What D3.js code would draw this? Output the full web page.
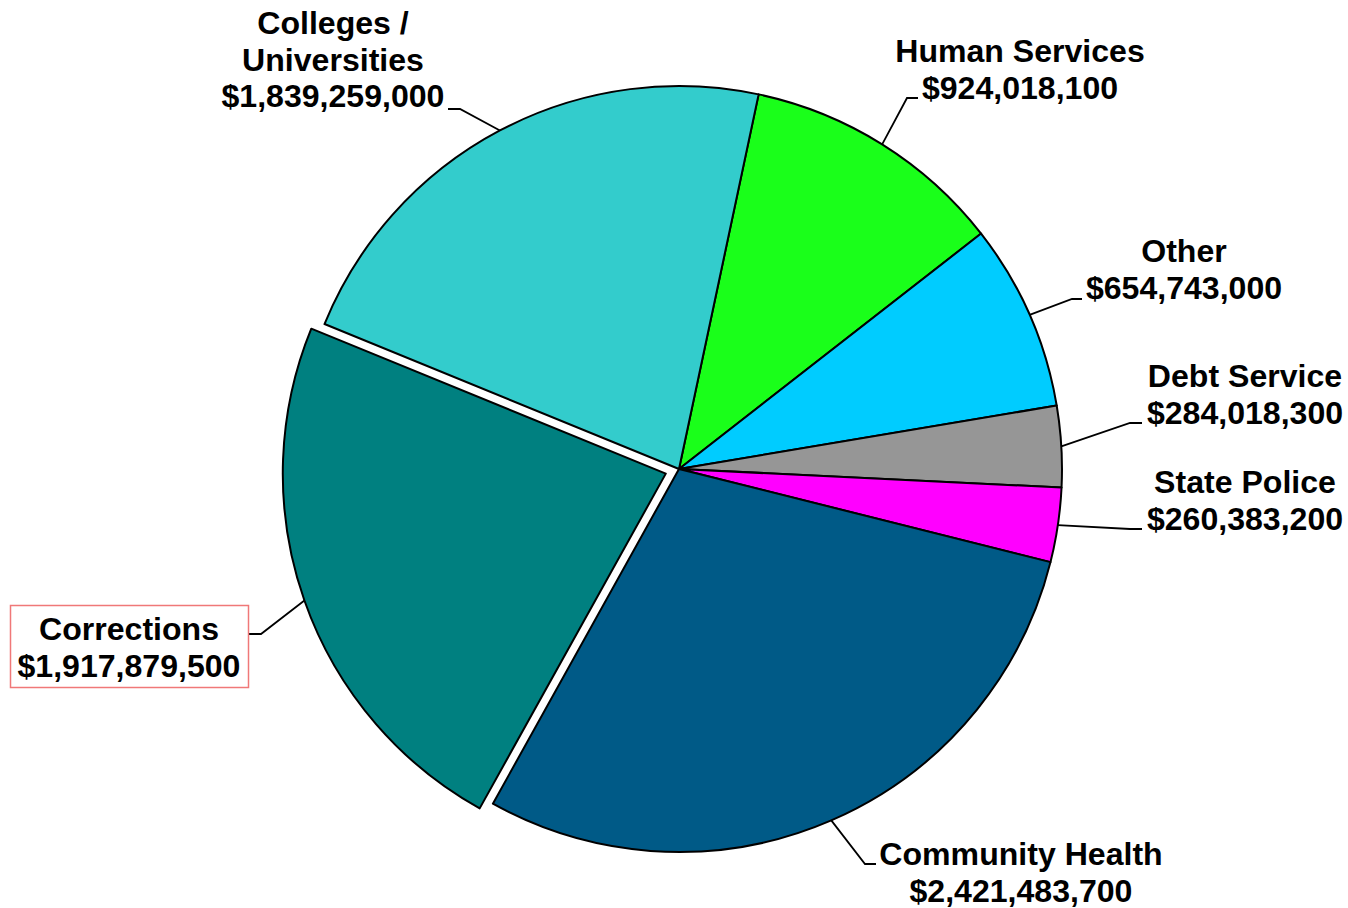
<!DOCTYPE html>
<html>
<head>
<meta charset="utf-8">
<script src="https://cdn.jsdelivr.net/npm/d3@7"></script>
<style>
  html, body { margin: 0; padding: 0; background: #fff; }
  svg { display: block; }
  text { font-family: Arial, "Liberation Sans", sans-serif; font-weight: bold; fill: #000; }
</style>
</head>
<body>
<svg id="chart" width="1348" height="908"></svg>
<script>
// ---- data ----
const categories = ["Human Services", "Other", "Debt Service", "State Police", "Community Health", "Corrections", "Colleges / Universities"];
const labelLines = [["Human Services"], ["Other"], ["Debt Service"], ["State Police"], ["Community Health"], ["Corrections"], ["Colleges /", "Universities"]];
const values = [924018100, 654743000, 284018300, 260383200, 2421483700, 1917879500, 1839259000];
const colors = ["#1aff1a", "#00ccff", "#969696", "#ff00ff", "#005a87", "#008080", "#33cccc"];
const exploded = [false, false, false, false, false, true, false];

// ---- layout (label centre x, first-line cap centre y, leader elbow x/y, leader end x, boxed) ----
const labelLayout = [
  { x: 1020, y: 51,  ex: 907,  ey: 98,  endX: 918,  box: false },
  { x: 1184, y: 251, ex: 1072, ey: 299, endX: 1082, box: false },
  { x: 1245, y: 376, ex: 1130, ey: 423, endX: 1142, box: false },
  { x: 1245, y: 482, ex: 1130, ey: 529, endX: 1142, box: false },
  { x: 1021, y: 854, ex: 865,  ey: 864, endX: 876,  box: false },
  { x: 129,  y: 629, ex: 261,  ey: 634, endX: 249,  box: true  },
  { x: 333,  y: 23,  ex: 460,  ey: 109, endX: 448,  box: false }
];

const cx = 679, cy = 469, R = 383, explodeDist = 14;
const fontSize = 31, lineH = 36.7, stretchX = 1.035;
const start = 12 * Math.PI / 180;

const svg = d3.select("#chart");
const fmt = d3.format("$,");

const pie = d3.pie().sort(null).value(d => d).startAngle(start).endAngle(start + 2 * Math.PI);
const arcs = pie(values);
const arc = d3.arc().innerRadius(0).outerRadius(R);

const g = svg.append("g").attr("transform", `translate(${cx},${cy})`);

function offsetOf(d, i) {
  if (!exploded[i]) return [0, 0];
  const m = (d.startAngle + d.endAngle) / 2;
  return [Math.sin(m) * explodeDist, -Math.cos(m) * explodeDist];
}

g.selectAll("path.slice")
  .data(arcs)
  .join("path")
  .attr("class", "slice")
  .attr("d", arc)
  .attr("transform", (d, i) => { const o = offsetOf(d, i); return `translate(${o[0]},${o[1]})`; })
  .attr("fill", (d, i) => colors[i])
  .attr("stroke", "#000")
  .attr("stroke-width", 2)
  .attr("stroke-linejoin", "round");

// leader lines
arcs.forEach((d, i) => {
  const L = labelLayout[i];
  const m = (d.startAngle + d.endAngle) / 2;
  const o = offsetOf(d, i);
  const px = cx + o[0] + Math.sin(m) * R;
  const py = cy + o[1] - Math.cos(m) * R;
  svg.append("polyline")
    .attr("points", `${px},${py} ${L.ex},${L.ey} ${L.endX},${L.ey}`)
    .attr("fill", "none")
    .attr("stroke", "#000")
    .attr("stroke-width", 1.8);
});

// labels
arcs.forEach((d, i) => {
  const L = labelLayout[i];
  const lines = labelLines[i].concat([fmt(values[i])]);
  if (L.box) {
    svg.append("rect")
      .attr("x", 10.5).attr("y", 605.5)
      .attr("width", 238).attr("height", 82)
      .attr("fill", "#fff")
      .attr("stroke", "#f07878")
      .attr("stroke-width", 1.5);
  }
  const t = svg.append("text")
    .attr("text-anchor", "middle")
    .attr("font-size", fontSize)
    .attr("transform", `translate(${L.x},0) scale(${stretchX},1)`);
  lines.forEach((ln, k) => {
    t.append("tspan")
      .attr("x", 0)
      .attr("y", L.y + k * lineH + fontSize * 0.358)
      .text(ln);
  });
});
</script>
</body>
</html>
